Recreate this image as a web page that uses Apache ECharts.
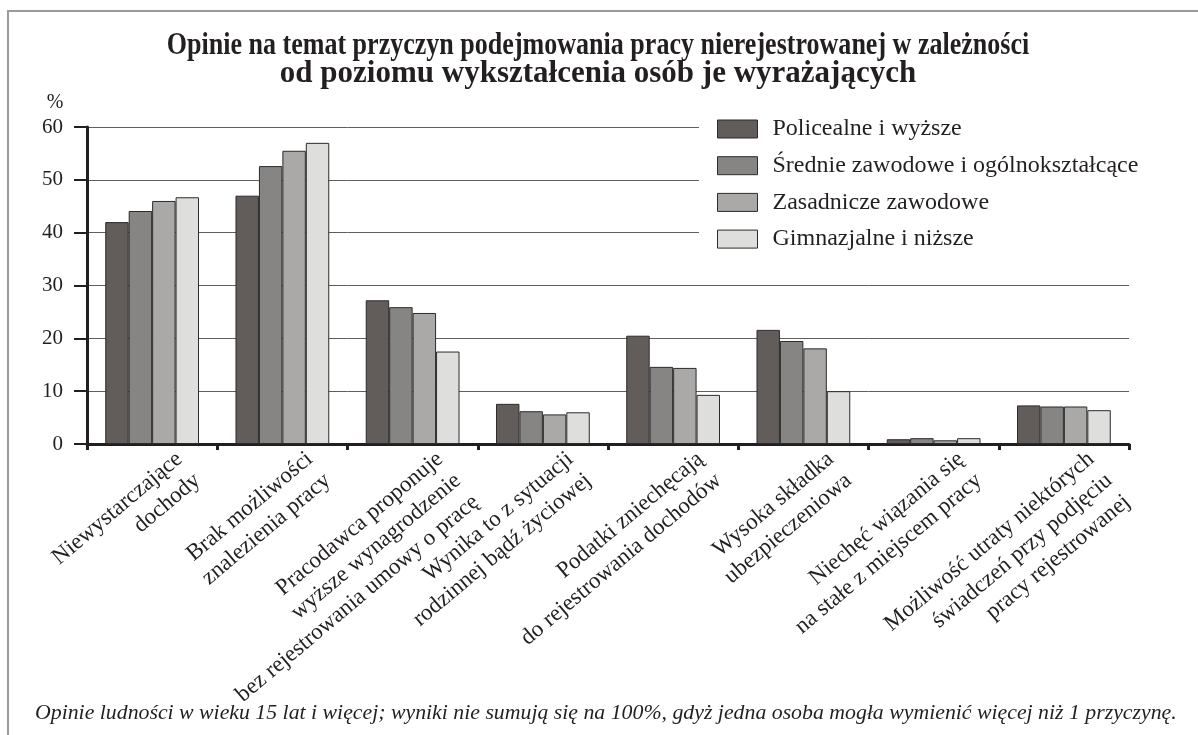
<!DOCTYPE html>
<html>
<head>
<meta charset="utf-8">
<script src="https://cdn.jsdelivr.net/npm/echarts@6/dist/echarts.min.js"></script>
<style>
  html, body { margin: 0; padding: 0; background: #fff; }
  #chart { width: 1198px; height: 735px; }
</style>
</head>
<body>
<div id="chart"></div>
<script>
const titleLine1 = 'Opinie na temat przyczyn podejmowania pracy nierejestrowanej w zależności';
const titleLine2 = 'od poziomu wykształcenia osób je wyrażających';
const footnoteText = 'Opinie ludności w wieku 15 lat i więcej; wyniki nie sumują się na 100%, gdyż jedna osoba mogła wymienić więcej niż 1 przyczynę.';
const categories = [
  'Niewystarczające\ndochody',
  'Brak możliwości\nznalezienia pracy',
  'Pracodawca proponuje\nwyższe wynagrodzenie\nbez rejestrowania umowy o pracę',
  'Wynika to z sytuacji\nrodzinnej bądź życiowej',
  'Podatki zniechęcają\ndo rejestrowania dochodów',
  'Wysoka składka\nubezpieczeniowa',
  'Niechęć wiązania się\nna stałe z miejscem pracy',
  'Możliwość utraty niektórych\nświadczeń przy podjęciu\npracy rejestrowanej'
];
const seriesNames = [
  'Policealne i wyższe',
  'Średnie zawodowe i ogólnokształcące',
  'Zasadnicze zawodowe',
  'Gimnazjalne i niższe'
];
const policealne  = [42.0, 47.0, 27.2, 7.6, 20.5, 21.6, 0.9, 7.3];
const srednie     = [44.1, 52.6, 25.9, 6.2, 14.6, 19.5, 1.1, 7.1];
const zasadnicze  = [46.0, 55.5, 24.8, 5.6, 14.4, 18.1, 0.7, 7.1];
const gimnazjalne = [46.7, 57.0, 17.5, 6.0, 9.3, 10.0, 1.1, 6.4];
const yMin = 0, yMax = 60, yStep = 10;
const yUnit = '%';

const seriesData = [policealne, srednie, zasadnicze, gimnazjalne];
const colors = ['#625c5a', '#878583', '#aaa9a8', '#dededc'];
const FONT = '"Liberation Serif", "DejaVu Serif", serif';
const TXT = '#231f20';

const chart = echarts.init(document.getElementById('chart'), null, { renderer: 'canvas' });
chart.setOption({
  animation: false,
  backgroundColor: '#fff',
  title: [{
    text: footnoteText,
    left: 35,
    top: 702,
    padding: 0,
    textStyle: { fontFamily: FONT, fontStyle: 'italic', fontWeight: 'normal', fontSize: 21.8, color: TXT }
  }],
  graphic: [{
    type: 'rect',
    shape: { x: 8, y: 11, width: 1210, height: 800 },
    style: { fill: 'none', stroke: '#9a9a9a', lineWidth: 2 },
    silent: true,
    z: -1
  }, {
    type: 'text',
    x: 598, y: 46,
    scaleX: 0.84,
    silent: true,
    style: { text: titleLine1, fontFamily: FONT, fontWeight: 'bold', fontSize: 31, fill: TXT, textAlign: 'center', textVerticalAlign: 'middle' }
  }, {
    type: 'text',
    x: 598, y: 74,
    silent: true,
    style: { text: titleLine2, fontFamily: FONT, fontWeight: 'bold', fontSize: 31, fill: TXT, textAlign: 'center', textVerticalAlign: 'middle' }
  }],
  legend: {
    orient: 'vertical',
    left: 699,
    top: 107,
    padding: [10, 20, 10, 18],
    backgroundColor: '#fff',
    itemWidth: 40,
    itemHeight: 18,
    itemGap: 12.7,
    icon: 'rect',
    data: seriesNames,
    itemStyle: { borderColor: '#2b2b2b', borderWidth: 1 },
    textStyle: { fontFamily: FONT, fontSize: 24, lineHeight: 24, color: TXT, padding: [0, 0, 0, 10] }
  },
  grid: {
    left: 87, right: 69, top: 127, bottom: 291,
    containLabel: false,
    outerBoundsMode: 'none'
  },
  xAxis: {
    type: 'category',
    data: categories,
    axisLine: { show: true, lineStyle: { color: TXT, width: 3 } },
    axisTick: { show: true, alignWithLabel: false, length: 6, lineStyle: { color: TXT, width: 3 } },
    axisLabel: {
      interval: 0,
      rotate: 40,
      margin: 17,
      align: 'right',
      verticalAlign: 'top',
      padding: [0, -24, 0, 0],
      fontFamily: FONT,
      fontSize: 23,
      lineHeight: 28,
      color: TXT
    },
    splitLine: { show: false }
  },
  yAxis: {
    type: 'value',
    min: yMin,
    max: yMax,
    interval: yStep,
    name: yUnit,
    nameLocation: 'end',
    nameGap: 14,
    nameTextStyle: { fontFamily: FONT, fontSize: 20, color: TXT, align: 'center', padding: [0, 64, 0, 0] },
    axisLine: { show: true, lineStyle: { color: TXT, width: 3 } },
    axisTick: { show: true, length: 13, lineStyle: { color: TXT, width: 2 } },
    axisLabel: { fontFamily: FONT, fontSize: 21, color: TXT, margin: 24 },
    splitLine: { show: true, lineStyle: { color: '#5f5f5f', width: 1 } }
  },
  series: seriesNames.map((name, i) => ({
    name: name,
    type: 'bar',
    data: seriesData[i],
    barGap: '0%',
    barCategoryGap: '28%',
    itemStyle: { color: colors[i], borderColor: '#2b2b2b', borderWidth: 1 }
  }))
});
</script>
</body>
</html>
